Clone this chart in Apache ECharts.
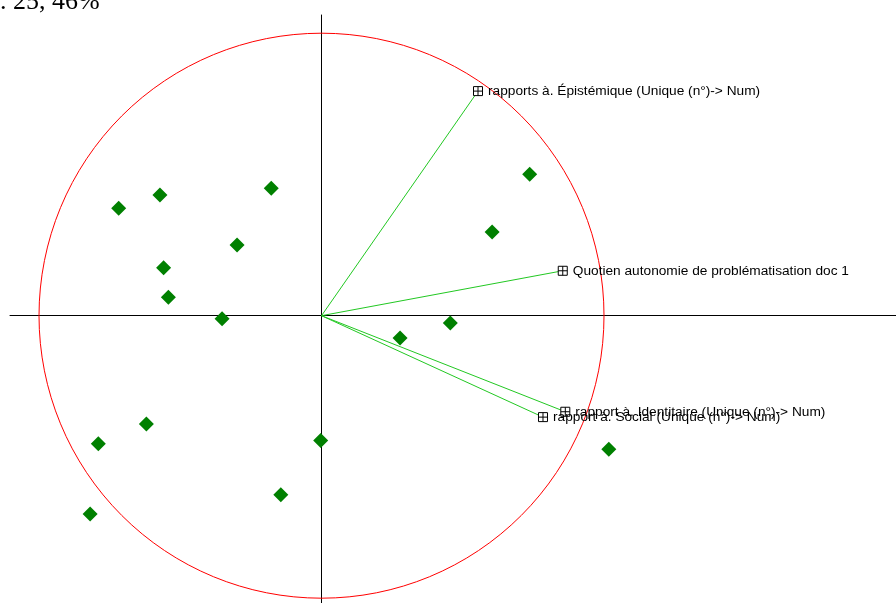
<!DOCTYPE html>
<html>
<head>
<meta charset="utf-8">
<script src="https://cdn.jsdelivr.net/npm/echarts@6/dist/echarts.min.js"></script>
<style>html,body{margin:0;padding:0;background:#fff}#c{width:896px;height:603px}</style>
</head>
<body>
<div id="c"></div>
<script>
// Individuals (green diamonds)
const pointX = [-0.718, -0.572, -0.178, -0.299, -0.559, -0.542, -0.352, -0.620, -0.790, -0.003, -0.144, -0.819, 0.737, 0.604, 0.456, 0.278, 1.017];
const pointY = [0.380, 0.427, 0.451, 0.250, 0.170, 0.065, -0.011, -0.383, -0.453, -0.442, -0.634, -0.702, 0.501, 0.296, -0.026, -0.079, -0.473];
// Variables (correlation vectors)
const varNames = [
  "rapports à. Épistémique (Unique (n°)-> Num)",
  "Quotien autonomie de problématisation doc 1",
  "rapport à. Identitaire (Unique (n°)-> Num)",
  "rapport à. Social (Unique (n°)-> Num)"
];
const varX = [0.554, 0.854, 0.863, 0.784];
const varY = [0.795, 0.159, -0.340, -0.359];
const circleRadius = [1];
const titleText = ". 25, 46%";

const chart = echarts.init(document.getElementById('c'));
chart.setOption({
  animation: false,
  backgroundColor: '#fff',
  grid: {left: 10, right: 0, top: 15, bottom: 0, containLabel: false},
  xAxis: {
    type: 'value', min: -1.1027, max: 2.0336,
    axisLine: {show: true, onZero: true, lineStyle: {color: '#000', width: 1}},
    axisTick: {show: false}, axisLabel: {show: false}, splitLine: {show: false}
  },
  yAxis: {
    type: 'value', min: -1.017, max: 1.0644,
    axisLine: {show: true, onZero: true, lineStyle: {color: '#000', width: 1}},
    axisTick: {show: false}, axisLabel: {show: false}, splitLine: {show: false}
  },
  graphic: [{
    type: 'text', left: 0, top: -11,
    style: {text: titleText, font: '26px "Liberation Serif", "Times New Roman", serif', fill: '#000'}
  }],
  series: [
    {
      type: 'custom',
      data: circleRadius.map(r => [0, 0, r]),
      renderItem: function (params, api) {
        const c = api.coord([api.value(0), api.value(1)]);
        const s = api.size([api.value(2), api.value(2)]);
        return {
          type: 'circle',
          shape: {cx: c[0], cy: c[1], r: s[0]},
          style: {fill: 'none', stroke: '#ff0000', lineWidth: 1}
        };
      },
      silent: true, z: 1
    },
    {
      type: 'custom',
      data: varNames.map((n, i) => [varX[i], varY[i], n]),
      renderItem: function (params, api) {
        const o = api.coord([0, 0]);
        const p = api.coord([api.value(0), api.value(1)]);
        const name = varNames[params.dataIndex];
        const h = 4.5;
        return {
          type: 'group',
          children: [
            {type: 'line', shape: {x1: o[0], y1: o[1], x2: p[0], y2: p[1]}, style: {stroke: '#22c822', lineWidth: 1}},
            {type: 'rect', shape: {x: p[0] - h, y: p[1] - h, width: 2 * h, height: 2 * h}, style: {fill: '#fff', stroke: '#000', lineWidth: 1}},
            {type: 'line', shape: {x1: p[0] - h, y1: p[1], x2: p[0] + h, y2: p[1]}, style: {stroke: '#000', lineWidth: 1}},
            {type: 'line', shape: {x1: p[0], y1: p[1] - h, x2: p[0], y2: p[1] + h}, style: {stroke: '#000', lineWidth: 1}},
            {type: 'text', x: p[0] + 10, y: p[1], style: {text: name, fill: '#000', font: '13.7px "Liberation Sans", Arial, sans-serif', verticalAlign: 'middle', align: 'left'}}
          ]
        };
      },
      silent: true, z: 3
    },
    {
      type: 'scatter',
      data: pointX.map((x, i) => [x, pointY[i]]),
      symbol: 'diamond',
      symbolSize: 15,
      itemStyle: {color: '#008000', opacity: 1},
      silent: true, z: 4
    }
  ]
});
</script>
</body>
</html>
